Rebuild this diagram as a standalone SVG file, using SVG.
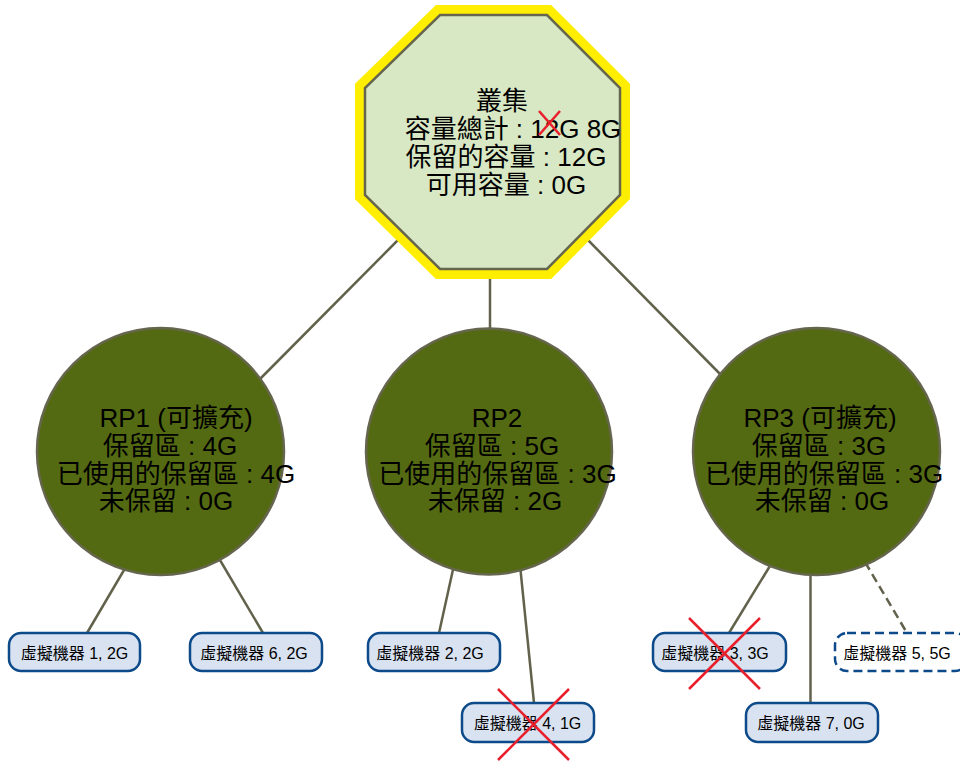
<svg xmlns="http://www.w3.org/2000/svg" width="960" height="761" viewBox="0 0 960 761">
<style>
  .conn { stroke: #62624c; stroke-width: 2.5; fill: none; }
  .dash { stroke-dasharray: 9 5; }
  .rp { fill: #546a12; stroke: #66664f; stroke-width: 2.5; }
  .vm { fill: #d8e2f1; stroke: #0c4a8a; stroke-width: 2.5; }
  .vmdash { stroke-dasharray: 9 5; }
  .big { font-family: "Liberation Sans", "Noto Sans CJK TC", sans-serif; font-size: 26px; fill: #000; text-anchor: middle; }
  .small { font-family: "Liberation Sans", "Noto Sans CJK TC", sans-serif; font-size: 16px; fill: #000; text-anchor: middle; }
  .cross { stroke: #e8202c; stroke-width: 2.5; fill: none; }
</style>
<rect x="0" y="0" width="960" height="761" fill="#ffffff"/>
<g id="connectors">
  <line class="conn" x1="403" y1="235" x2="258" y2="381"/>
  <line class="conn" x1="490" y1="275" x2="490" y2="332"/>
  <line class="conn" x1="583" y1="235" x2="724" y2="378"/>
  <line class="conn" x1="127" y1="565" x2="87" y2="633"/>
  <line class="conn" x1="217" y1="555" x2="263" y2="633"/>
  <line class="conn" x1="454" y1="565" x2="439" y2="633"/>
  <line class="conn" x1="520" y1="565" x2="534" y2="703"/>
  <line class="conn" x1="773" y1="561" x2="729" y2="633"/>
  <line class="conn" x1="810.5" y1="570" x2="810.5" y2="703"/>
  <line class="conn dash" x1="865" y1="562" x2="907" y2="633"/>
</g>
<g id="cluster">
  <polygon points="440,15 547,15 620,88 620,195 547,269 440,269 365,195 365,88" fill="none" stroke="#ffee00" stroke-width="20" stroke-linejoin="miter"/>
  <polygon points="440,15 547,15 620,88 620,195 547,269 440,269 365,195 365,88" fill="#d9e8c4" stroke="#66664f" stroke-width="2.5"/>
  <text class="big" x="502" y="110">叢集</text>
  <text class="big" x="513" y="138">容量總計 : 12G 8G</text>
  <text class="big" x="506" y="166">保留的容量 : 12G</text>
  <text class="big" x="506" y="194">可用容量 : 0G</text>
  <line class="cross" x1="539" y1="111" x2="560" y2="135"/>
  <line class="cross" x1="560" y1="111" x2="539" y2="135"/>
</g>
<g id="rp1">
  <circle class="rp" cx="160.5" cy="451.5" r="123.5"/>
  <text class="big" x="176" y="427">RP1 (可擴充)</text>
  <text class="big" x="170" y="455">保留區 : 4G</text>
  <text class="big" x="176" y="483">已使用的保留區 : 4G</text>
  <text class="big" x="166" y="510">未保留 : 0G</text>
</g>
<g id="rp2">
  <circle class="rp" cx="489" cy="451.5" r="123"/>
  <text class="big" x="497" y="427">RP2</text>
  <text class="big" x="492" y="455">保留區 : 5G</text>
  <text class="big" x="497.5" y="483">已使用的保留區 : 3G</text>
  <text class="big" x="495" y="510">未保留 : 2G</text>
</g>
<g id="rp3">
  <circle class="rp" cx="816.5" cy="451.5" r="123.5"/>
  <text class="big" x="820" y="427">RP3 (可擴充)</text>
  <text class="big" x="819" y="455">保留區 : 3G</text>
  <text class="big" x="824" y="483">已使用的保留區 : 3G</text>
  <text class="big" x="822" y="510">未保留 : 0G</text>
</g>
<g id="vm1">
  <rect class="vm" x="9" y="633" width="131" height="38" rx="12"/>
  <text class="small" x="74.5" y="659">虛擬機器 1, 2G</text>
</g>
<g id="vm6">
  <rect class="vm" x="190" y="633" width="132" height="38" rx="12"/>
  <text class="small" x="254" y="659">虛擬機器 6, 2G</text>
</g>
<g id="vm2">
  <rect class="vm" x="368" y="633" width="132" height="38" rx="12"/>
  <text class="small" x="430" y="659">虛擬機器 2, 2G</text>
</g>
<g id="vm4">
  <rect class="vm" x="462" y="703" width="132" height="39" rx="12"/>
  <text class="small" x="527.5" y="729">虛擬機器 4, 1G</text>
  <line class="cross" x1="498" y1="689" x2="569" y2="760"/>
  <line class="cross" x1="569" y1="689" x2="498" y2="760"/>
</g>
<g id="vm3">
  <rect class="vm" x="653" y="633" width="133" height="38" rx="12"/>
  <text class="small" x="715" y="659">虛擬機器 3, 3G</text>
  <line class="cross" x1="689" y1="618" x2="760" y2="689"/>
  <line class="cross" x1="760" y1="618" x2="689" y2="689"/>
</g>
<g id="vm5">
  <rect class="vm vmdash" x="835" y="633" width="132" height="38" rx="12" style="fill:#ffffff"/>
  <text class="small" x="897" y="659">虛擬機器 5, 5G</text>
</g>
<g id="vm7">
  <rect class="vm" x="746" y="703" width="132" height="39" rx="12"/>
  <text class="small" x="811" y="729">虛擬機器 7, 0G</text>
</g>
</svg>
